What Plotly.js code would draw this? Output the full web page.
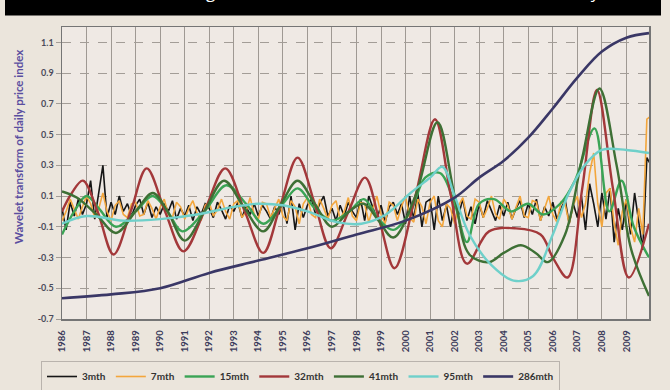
<!DOCTYPE html>
<html>
<head>
<meta charset="utf-8">
<script src="https://cdn.plot.ly/plotly-3.0.1.min.js"></script>
<style>
  html, body { margin: 0; padding: 0; background: #ebe5dc; }
  #chart { width: 670px; height: 390px; }
</style>
</head>
<body>
<div id="chart"></div>
<script>
// Year tick labels along the bottom axis
const yearTicks = [1986, 1987, 1988, 1989, 1990, 1991, 1992, 1993, 1994, 1995, 1996, 1997,
                   1998, 1999, 2000, 2001, 2002, 2003, 2004, 2005, 2006, 2007, 2008, 2009];
const yearLabels = yearTicks.map(String);

// Value axis ticks
const valueTicks = [-0.7, -0.5, -0.3, -0.1, 0.1, 0.3, 0.5, 0.7, 0.9, 1.1];
const valueLabels = ['-0.7', '-0.5', '-0.3', '-0.1', '0.1', '0.3', '0.5', '0.7', '0.9', '1.1'];

// 3-month scale, sampled every two months from Jan 1986
const mth3 = [
  0.02, -0.12, 0.06, -0.03, 0.08, -0.02,
  0.05, 0.20, -0.05, 0.12, 0.30, -0.04,
  0.06, -0.02, 0.10, 0.00, 0.05, -0.03,
  0.04, 0.08, -0.02, 0.06, -0.04, 0.03,
  -0.02, 0.05, 0.00, 0.07, -0.05, 0.02,
  -0.03, 0.04, -0.06, 0.03, -0.02, 0.05,
  0.02, -0.04, 0.06, 0.01, -0.05, 0.04,
  0.00, 0.06, -0.04, 0.03, -0.02, 0.05,
  -0.03, 0.04, 0.00, -0.05, 0.03, -0.02,
  0.06, -0.08, 0.10, -0.12, 0.05, -0.04,
  0.04, 0.08, -0.02, 0.05, 0.10, -0.03,
  0.02, -0.06, 0.04, -0.03, 0.06, 0.00,
  -0.04, 0.08, -0.06, 0.10, 0.02, -0.05,
  0.04, -0.07, 0.03, 0.06, -0.02, 0.05,
  -0.08, 0.10, -0.05, 0.12, -0.10, 0.06,
  0.08, -0.12, 0.10, -0.06, 0.04, -0.10,
  0.06, -0.02, 0.08, -0.06, 0.03, -0.08,
  0.05, -0.04, 0.07, 0.00, -0.06, 0.04,
  -0.03, 0.06, -0.05, 0.02, 0.07, -0.04,
  0.05, -0.02, 0.08, -0.06, 0.03, -0.03,
  0.06, -0.05, 0.02, 0.08, -0.08, 0.05,
  -0.04, 0.10, -0.12, 0.18, 0.05, -0.10,
  0.12, -0.05, 0.15, -0.20, 0.02, -0.12,
  0.08, -0.15, 0.12, -0.05, -0.25, 0.35,
  0.30
];

// 7-month scale, same sampling
const mth7 = [
  -0.06, 0.00, 0.08, 0.02, -0.05, 0.03,
  0.10, 0.05, -0.04, 0.02, 0.12, 0.00,
  -0.06, 0.04, 0.07, -0.02, -0.04, 0.05,
  0.06, -0.03, -0.02, 0.07, 0.02, -0.05,
  0.03, 0.08, -0.02, -0.04, 0.06, 0.03,
  -0.05, 0.02, 0.07, -0.01, -0.06, 0.04,
  0.06, -0.03, 0.01, 0.08, 0.00, -0.05,
  0.05, 0.07, -0.04, 0.00, 0.09, -0.02,
  -0.05, 0.06, 0.05, -0.04, 0.02, 0.08,
  -0.03, -0.06, 0.07, 0.03, -0.08, 0.05,
  0.09, -0.02, -0.04, 0.08, 0.02, -0.05,
  0.04, 0.07, -0.05, 0.00, 0.09, -0.03,
  -0.06, 0.06, 0.05, -0.07, 0.02, 0.10,
  -0.02, -0.08, 0.06, 0.04, -0.06, 0.03,
  0.10, -0.04, -0.07, 0.08, 0.03, -0.08,
  0.06, 0.10, -0.06, -0.10, 0.05, 0.02,
  -0.08, 0.04, 0.09, -0.03, -0.05, 0.08,
  0.06, -0.04, 0.02, 0.10, -0.02, -0.05,
  0.08, 0.04, -0.05, 0.03, 0.10, -0.03,
  -0.04, 0.07, 0.06, -0.06, 0.02, 0.10,
  -0.02, -0.07, 0.06, 0.05, -0.08, 0.04,
  0.10, -0.04, 0.05, 0.25, 0.38, 0.05,
  -0.10, 0.12, 0.15, -0.08, -0.22, 0.00,
  0.08, -0.10, -0.20, 0.02, -0.15, 0.60,
  0.62
];

// Smoother scales: turning points and crossings, in decimal years
const mth15Years = [1986.0, 1986.5, 1987.0, 1987.5, 1988.2, 1989.0, 1989.7, 1990.3, 1990.9, 1991.8,
                    1992.7, 1993.5, 1994.2, 1995.0, 1995.6, 1996.3, 1997.0, 1997.7, 1998.3, 1998.9,
                    1999.5, 2000.2, 2000.8, 2001.4, 2002.0, 2002.5, 2003.0, 2003.6, 2004.3, 2005.0,
                    2005.6, 2006.3, 2006.9, 2007.7, 2008.3, 2008.8, 2009.3, 2009.92];
const mth15 = [-0.15, 0.00, 0.10, 0.02, -0.10, 0.00, 0.10, 0.00, -0.13, 0.00,
               0.17, 0.05, -0.08, 0.05, 0.15, 0.02, -0.06, 0.00, 0.08, -0.05,
               -0.12, 0.00, 0.22, 0.25, 0.05, -0.20, 0.05, 0.08, 0.00, 0.05,
               -0.02, 0.05, 0.20, 0.54, 0.00, 0.20, -0.10, -0.30];

const mth32Years = [1986.0, 1986.4, 1986.85, 1987.45, 1988.1, 1988.8, 1989.45, 1990.2, 1990.95, 1991.8,
                    1992.65, 1993.45, 1994.2, 1994.9, 1995.6, 1996.3, 1996.95, 1997.65, 1998.35, 1998.95,
                    1999.55, 2000.4, 2001.2, 2001.85, 2002.5, 2003.4, 2004.5, 2005.5, 2006.0, 2006.6,
                    2007.2, 2007.8, 2008.45, 2009.1, 2009.92];
const mth32 = [0.00, 0.12, 0.20, 0.00, -0.28, 0.00, 0.28, 0.00, -0.26, 0.00,
               0.28, 0.00, -0.27, 0.04, 0.35, 0.05, -0.24, -0.01, 0.22, -0.07,
               -0.37, 0.10, 0.60, 0.10, -0.34, -0.13, -0.11, -0.15, -0.30, -0.43,
               0.15, 0.79, 0.15, -0.43, -0.08];

const mth41Years = [1986.0, 1986.6, 1987.4, 1988.2, 1989.0, 1989.7, 1990.3, 1991.0, 1991.8, 1992.6,
                    1993.4, 1994.2, 1994.9, 1995.6, 1996.3, 1997.0, 1997.7, 1998.3, 1998.9, 1999.5,
                    2000.4, 2001.3, 2002.0, 2002.6, 2003.4, 2004.0, 2004.7, 2005.3, 2005.8, 2006.5,
                    2007.2, 2007.9, 2008.6, 2009.2, 2009.92];
const mth41 = [0.13, 0.09, -0.02, -0.14, 0.00, 0.12, 0.00, -0.19, 0.00, 0.20,
               0.03, -0.13, 0.04, 0.20, 0.05, -0.10, 0.00, 0.05, -0.06, -0.17,
               0.10, 0.58, 0.10, -0.28, -0.33, -0.27, -0.22, -0.27, -0.33, -0.15,
               0.35, 0.80, 0.30, -0.25, -0.55];

const mth95Years = [1986.0, 1987.0, 1988.5, 1990.0, 1991.5, 1993.0, 1994.0, 1995.0, 1996.0, 1997.2,
                    1998.2, 1999.2, 2000.2, 2001.0, 2001.5, 2002.0, 2002.6, 2003.5, 2004.4, 2005.2,
                    2006.0, 2006.6, 2007.3, 2008.0, 2009.0, 2009.92];
const mth95 = [-0.08, -0.03, -0.06, -0.05, -0.02, 0.03, 0.05, 0.04, 0.00, -0.07,
               -0.08, -0.02, 0.12, 0.22, 0.29, 0.10, -0.15, -0.35, -0.45, -0.42,
               -0.15, 0.10, 0.30, 0.40, 0.40, 0.38];

const mth286Years = [1986, 1988, 1990, 1992, 1994, 1996, 1998, 2000, 2002, 2003,
                     2004, 2005, 2006, 2007, 2008, 2009, 2009.92];
const mth286 = [-0.565, -0.54, -0.50, -0.40, -0.32, -0.24, -0.15, -0.06, 0.09, 0.22,
                0.33, 0.48, 0.67, 0.87, 1.04, 1.13, 1.16];

// Bi-monthly time stamps for the two noisy scales
const stepYears = arr => arr.map((_, i) => 1986 + i / 6);

const FONT = 'Lato, "Open Sans", sans-serif';

function series(name, x, y, color, width, smooth) {
  return {
    type: 'scatter', mode: 'lines', name: name, x: x, y: y,
    line: smooth ? { color: color, width: width, shape: 'spline', smoothing: 1 }
                 : { color: color, width: width },
    hoverinfo: 'skip'
  };
}

const traces = [
  series('3mth',   stepYears(mth3), mth3, '#161616', 1.6, false),
  series('7mth',   stepYears(mth7), mth7, '#f3a63c', 1.6, false),
  series('15mth',  mth15Years,  mth15,  '#3aa455', 2.4, true),
  series('32mth',  mth32Years,  mth32,  '#a3383a', 2.4, true),
  series('41mth',  mth41Years,  mth41,  '#3e7035', 2.4, true),
  series('95mth',  mth95Years,  mth95,  '#6fd0ca', 2.4, true),
  series('286mth', mth286Years, mth286, '#3a3766', 2.6, true)
];

// pixel helpers for paper-positioned decorations (plot box 62..649 x 27..319)
const px = X => (X - 62) / 587;
const py = Y => (319 - Y) / 292;

const layout = {
  width: 670, height: 390,
  margin: { l: 62, r: 21, t: 27, b: 71, autoexpand: false },
  paper_bgcolor: '#ebe5dc',
  plot_bgcolor: '#efe9e4',
  font: { family: FONT, color: '#333' },
  showlegend: true,
  xaxis: {
    range: [1986, 2009.92],
    tickmode: 'array', tickvals: yearTicks, ticktext: yearLabels,
    tickangle: -90,
    tickfont: { family: FONT, size: 9.5, color: '#3b3b5a', weight: 'bold' },
    showgrid: true, gridcolor: '#9f9993', gridwidth: 1,
    zeroline: false,
    showline: true, linecolor: '#757575', linewidth: 1.5, mirror: true,
    ticks: 'outside', ticklen: 6, tickcolor: 'rgba(0,0,0,0)'
  },
  yaxis: {
    range: [-0.7, 1.2],
    tickmode: 'array', tickvals: valueTicks, ticktext: valueLabels,
    tickfont: { family: FONT, size: 9, color: '#4a4a5a', weight: 'bold' },
    showgrid: true, gridcolor: '#a39d97', gridwidth: 1, griddash: 'dash',
    zeroline: false,
    showline: true, linecolor: '#757575', linewidth: 1.5, mirror: true,
    ticks: 'outside', ticklen: 5, tickcolor: '#a39d97'
  },
  legend: {
    orientation: 'h',
    x: px(41), xanchor: 'left',
    y: py(361), yanchor: 'top',
    bgcolor: 'rgba(0,0,0,0)',
    bordercolor: '#b9b3ad', borderwidth: 1,
    font: { family: FONT, size: 10, color: '#333', weight: 'bold' },
    traceorder: 'normal'
  },
  shapes: [
    { type: 'rect', xref: 'paper', yref: 'paper',
      x0: px(5), x1: px(661), y0: py(15.5), y1: py(-2),
      fillcolor: '#000', line: { width: 0 }, layer: 'above' }
  ],
  annotations: [
    { text: 'Wavelet smoothing of the index at each of the seven scales monthly',
      xref: 'paper', yref: 'paper', x: px(602), y: py(5),
      xanchor: 'right', yanchor: 'bottom', showarrow: false,
      font: { family: '"Open Sans", sans-serif', size: 17, color: '#ffffff' } },
    { text: '<b>Wavelet transform of daily price index</b>',
      xref: 'paper', yref: 'paper', x: px(18), y: py(147),
      xanchor: 'center', yanchor: 'middle', textangle: -90, showarrow: false,
      font: { family: FONT, size: 11.5, color: '#5a4ea0' } }
  ]
};

Plotly.newPlot('chart', traces, layout, { displayModeBar: false, staticPlot: true });
</script>
</body>
</html>
